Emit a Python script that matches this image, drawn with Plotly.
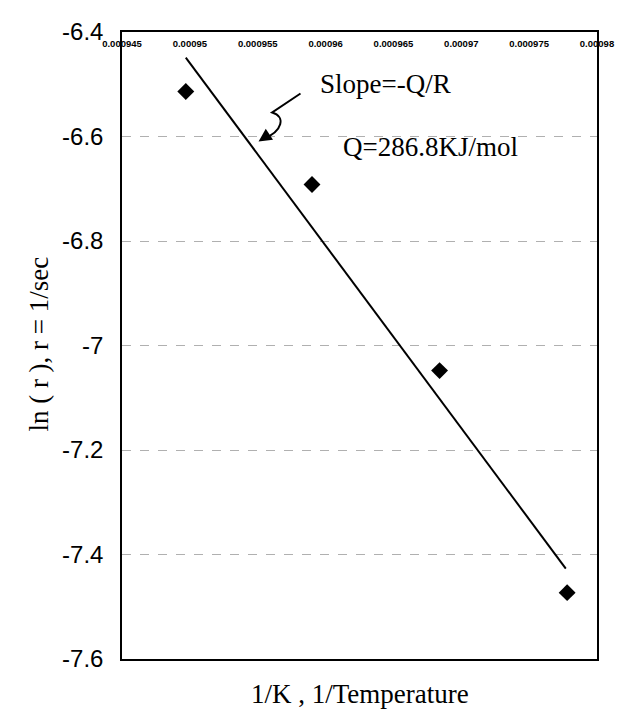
import plotly.graph_objects as go

# data
inv_temp = [0.0009497, 0.0009590, 0.0009684, 0.0009778]
ln_rate = [-6.514, -6.692, -7.048, -7.473]
fit_x = [0.0009497, 0.0009777]
fit_y = [-6.449, -7.427]

x_ticks = [0.000945, 0.00095, 0.000955, 0.00096, 0.000965, 0.00097, 0.000975, 0.00098]
x_ticktext = ["0.000945", "0.00095", "0.000955", "0.00096", "0.000965", "0.00097", "0.000975", "0.00098"]
y_ticks = [-6.4, -6.6, -6.8, -7.0, -7.2, -7.4, -7.6]
y_ticktext = ["-6.4", "-6.6", "-6.8", "-7", "-7.2", "-7.4", "-7.6"]

fig = go.Figure()
fig.add_trace(go.Scatter(x=fit_x, y=fit_y, mode="lines",
                         line=dict(color="black", width=2), showlegend=False, hoverinfo="skip"))
fig.add_trace(go.Scatter(x=inv_temp, y=ln_rate, mode="markers",
                         marker=dict(symbol="diamond", size=13, color="black"), showlegend=False))

serif = "Liberation Serif, Times New Roman, serif"
sans = "Liberation Sans, Arial, sans-serif"

fig.update_layout(
    width=626, height=717,
    margin=dict(l=122, r=17, t=32, b=58),
    paper_bgcolor="white", plot_bgcolor="white",
    xaxis=dict(range=[0.000945, 0.00098], side="top", tickvals=x_ticks, ticktext=x_ticktext,
               ticklabelposition="inside", ticklabeloverflow="allow", ticklabelstandoff=8,
               tickfont=dict(family=sans, size=9.5, color="black", weight="bold"),
               showgrid=False, zeroline=False, showline=True, linecolor="black", linewidth=1.5,
               mirror=True, ticks=""),
    yaxis=dict(range=[-7.6, -6.4], tickvals=y_ticks, ticktext=y_ticktext,
               tickfont=dict(family=sans, size=24, color="black"), ticklabelstandoff=12,
               showgrid=True, gridcolor="#b0b0b0", griddash="dash", gridwidth=1,
               zeroline=False, showline=True, linecolor="black", linewidth=1.5, mirror=True, ticks=""),
)

# curved arrow
fig.add_shape(type="path", xref="paper", yref="paper",
              path="M 0.3758 0.9019 L 0.3162 0.8716 C 0.3450 0.8650, 0.3380 0.8420, 0.2990 0.8300",
              line=dict(color="black", width=2))
fig.add_annotation(xref="paper", yref="paper", x=0.2875, y=0.8254, ax=9, ay=-6,
                   showarrow=True, arrowhead=2, arrowsize=1.3, arrowwidth=2, arrowcolor="black", text="")

fig.add_annotation(xref="paper", yref="paper", x=0.4127, y=0.9163, xanchor="left", yanchor="middle",
                   text="Slope=-Q/R", showarrow=False, font=dict(family=serif, size=27, color="black"))
fig.add_annotation(xref="paper", yref="paper", x=0.462, y=0.8158, xanchor="left", yanchor="middle",
                   text="Q=286.8KJ/mol", showarrow=False, font=dict(family=serif, size=27, color="black"))
fig.add_annotation(xref="paper", yref="paper", x=-0.1745, y=0.5016, textangle=-90,
                   xanchor="center", yanchor="middle", text="ln ( r ), r = 1/sec", showarrow=False,
                   font=dict(family=serif, size=27, color="black"))
fig.add_annotation(xref="paper", yref="paper", x=0.5, y=-0.0566, xanchor="center", yanchor="middle",
                   text="1/K , 1/Temperature", showarrow=False,
                   font=dict(family=serif, size=27, color="black"))

fig.write_html("out.html")
